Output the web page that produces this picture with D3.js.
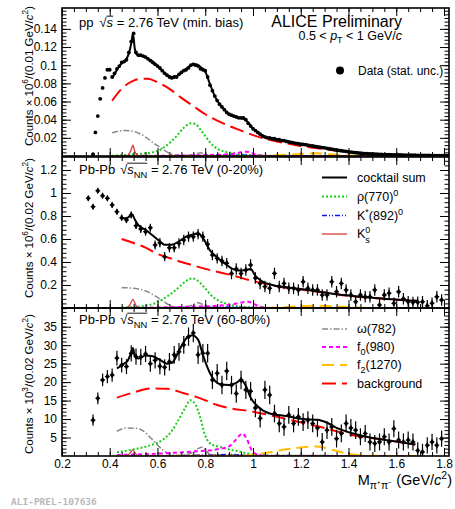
<!DOCTYPE html>
<html><head><meta charset="utf-8">
<script src="https://cdn.jsdelivr.net/npm/d3@7"></script>
<style>
body{margin:0;background:#fff;}
svg{display:block;font-family:"Liberation Sans",Arial,Helvetica,sans-serif;}
</style></head><body>
<svg id="c" width="455" height="509"></svg>
<script>
// ---------- tick labels ----------
const xTicks = [0.2,0.4,0.6,0.8,1,1.2,1.4,1.6,1.8];
const ppYTicks = [0.02,0.04,0.06,0.08,0.1,0.12,0.14];
const cenYTicks = [0.2,0.4,0.6,0.8,1,1.2];
const perYTicks = [5,10,15,20,25,30,35];

// ---------- pp (top) data, 0.01 GeV bins starting at 0.33 ----------
const ppBinStart = 0.33, ppBinWidth = 0.01;
const ppCounts = [
0.002,0.026,0.044,0.063,0.075,0.086,0.095,0.095,
0.087,0.091,0.096,0.099,0.103,0.104,0.106,0.114,0.126,0.135,
0.114,0.111,0.111,0.110,0.109,0.107,0.105,0.103,0.101,0.099,
0.097,0.094,0.091,0.089,0.087,0.086,0.087,0.087,0.090,0.092,
0.094,0.095,0.097,0.100,0.101,0.100,0.099,0.096,0.095,0.094,
0.087,0.078,0.072,0.066,0.061,0.057,0.054,0.051,0.048,0.046,
0.045,0.044,0.043,0.042,0.042,0.042,0.040,0.036,0.033,0.030,
0.028,0.026,0.024,0.022,0.021,0.020,0.020,0.019,0.019,0.018,
0.018,0.017,0.017,0.016,0.0155,0.015,0.0145,0.014,0.0135,0.013,
0.0128,0.0125,0.012,0.0115,0.011,0.0106,0.010,0.0097,0.0093,0.009,
0.0085,0.008,0.0075,0.007,0.0066,0.0062,0.0058,0.0054,0.005,0.0046,
0.0043,0.004,0.0037,0.0034,0.0031,0.0029,0.0027,0.0025,0.0023,0.0022,
0.0021,0.0019,0.0018,0.0017,0.0016,0.0015,0.0014,0.0013,0.0013,0.0012,
0.0011,0.0011,0.0010,0.0010,0.0009,0.0009,0.0008,0.0008,0.0007,0.0007,
0.0007,0.0006,0.0006,0.0006,0.0005,0.0005,0.0005,0.0004,0.0004,0.0004,
0.0003,0.0003];

const ppSumM = [0.41,0.42,0.43,0.44,0.45,0.46,0.47,0.48,0.49,0.497,0.505,0.51,0.52,0.54,0.56,0.58,0.60,0.62,0.64,0.66,0.68,0.70,0.72,0.74,0.76,0.78,0.80,0.82,0.84,0.86,0.88,0.90,0.92,0.94,0.96,0.98,1.00,1.02,1.04,1.06,1.08,1.10,1.15,1.20,1.25,1.30,1.35,1.40,1.45,1.50,1.60,1.70,1.80];
const ppSumV = [0.086,0.090,0.095,0.099,0.102,0.104,0.107,0.113,0.124,0.135,0.118,0.113,0.111,0.110,0.107,0.104,0.099,0.094,0.089,0.087,0.088,0.092,0.096,0.100,0.101,0.098,0.093,0.079,0.066,0.057,0.051,0.046,0.044,0.042,0.041,0.037,0.030,0.026,0.022,0.020,0.019,0.018,0.0155,0.013,0.011,0.009,0.0066,0.0046,0.0031,0.0022,0.0012,0.0007,0.0003];
const ppBgM = [0.41,0.45,0.50,0.53,0.56,0.60,0.65,0.70,0.75,0.80,0.85,0.90,0.95,1.00,1.05,1.10,1.15,1.20,1.30,1.40,1.50,1.60,1.70,1.80];
const ppBgV = [0.061,0.074,0.083,0.085,0.085,0.081,0.074,0.064,0.055,0.046,0.039,0.033,0.028,0.023,0.019,0.016,0.0135,0.011,0.0075,0.0045,0.0025,0.0015,0.0008,0.0003];
const ppOmegaM = [0.41,0.43,0.46,0.50,0.53,0.56,0.59,0.62,0.65,0.68,0.72,0.75,0.77,0.78,0.79,0.81,0.84,1.80];
const ppOmegaV = [0.0256,0.027,0.028,0.027,0.024,0.019,0.013,0.008,0.003,0.001,0.0008,0.0015,0.003,0.0035,0.003,0.001,0.0002,0];
const ppRhoM = [0.41,0.45,0.50,0.55,0.60,0.64,0.68,0.71,0.74,0.76,0.78,0.80,0.82,0.85,0.88,0.92,0.96,1.00,1.05,1.80];
const ppRhoV = [0.0003,0.001,0.002,0.003,0.0055,0.012,0.022,0.031,0.036,0.035,0.029,0.022,0.015,0.008,0.005,0.003,0.0015,0.0008,0.0002,0];
const ppK0sM = [0.41,0.47,0.48,0.49,0.497,0.505,0.515,0.53,1.80];
const ppK0sV = [0,0,0.002,0.007,0.012,0.005,0.001,0,0];
const ppKstarM = [0.41,0.65,0.75,0.85,0.90,0.95,1.05,1.15,1.80];
const ppKstarV = [0,0,0.0005,0.001,0.0012,0.001,0.0004,0,0];
const ppF0M = [0.41,0.6,0.8,0.9,0.94,0.97,0.985,1.0,1.03,1.08,1.80];
const ppF0V = [0,0.0003,0.001,0.002,0.0035,0.0048,0.0042,0.0025,0.0008,0,0];
const ppF2M = [0.41,1.0,1.1,1.2,1.26,1.32,1.4,1.5,1.80];
const ppF2V = [0,0,0.0008,0.0022,0.003,0.002,0.0005,0,0];

// ---------- Pb-Pb 0-20% (middle), 0.02 GeV bins starting at 0.31 ----------
const cenBinStart = 0.31, cenBinWidth = 0.02;
const cenCounts = [
0.954,0.881,1.02,0.976,0.954,0.896,0.837,0.785,0.765,0.809,
0.716,0.687,0.664,0.698,0.548,0.568,0.446,0.524,0.524,0.562,
0.591,0.620,0.620,0.643,0.620,0.554,0.461,0.432,0.409,0.389,
0.300,0.340,0.300,0.330,0.374,0.260,0.214,0.186,0.171,0.301,
0.186,0.214,0.171,0.171,0.157,0.229,0.171,0.157,0.157,0.113,
0.113,0.229,0.142,0.214,0.157,0.113,0.055,0.113,0.098,0.098,
0.157,0.026,0.113,0.128,0.041,0.142,0.080,0.055,0.048,0.050,
0.055,0.020,0.041,0.098,0.070];
const cenErrors = [
0.018,0.018,0.018,0.02,0.02,0.022,0.022,0.025,0.025,0.03,
0.03,0.035,0.035,0.035,0.04,0.04,0.04,0.04,0.04,0.045,
0.045,0.045,0.045,0.045,0.045,0.045,0.045,0.045,0.045,0.045,
0.05,0.05,0.05,0.05,0.05,0.05,0.05,0.05,0.05,0.05,
0.05,0.05,0.05,0.05,0.05,0.05,0.05,0.05,0.05,0.05,
0.05,0.05,0.05,0.05,0.05,0.05,0.05,0.05,0.05,0.05,
0.05,0.05,0.05,0.05,0.05,0.05,0.05,0.05,0.05,0.05,
0.05,0.05,0.05,0.05,0.05];
const cenSumM = [0.45,0.47,0.485,0.495,0.505,0.52,0.55,0.58,0.61,0.63,0.66,0.69,0.72,0.75,0.77,0.79,0.82,0.85,0.88,0.91,0.94,0.97,0.99,1.01,1.04,1.08,1.14,1.20,1.28,1.35,1.42,1.50,1.58,1.69];
const cenSumV = [0.78,0.78,0.80,0.81,0.77,0.72,0.68,0.63,0.58,0.55,0.55,0.58,0.62,0.64,0.65,0.61,0.50,0.44,0.39,0.345,0.325,0.33,0.34,0.28,0.23,0.20,0.18,0.165,0.142,0.12,0.104,0.09,0.076,0.062];
const cenBgM = [0.45,0.5,0.55,0.6,0.65,0.7,0.75,0.8,0.85,0.9,1.0,1.1,1.2,1.3,1.4,1.5,1.6,1.69];
const cenBgV = [0.60,0.565,0.525,0.47,0.435,0.40,0.37,0.34,0.315,0.29,0.235,0.19,0.16,0.135,0.105,0.088,0.072,0.06];
const cenOmegaM = [0.45,0.48,0.52,0.56,0.59,0.62,0.65,0.68,0.72,0.75,0.77,0.79,0.81,0.84,1.69];
const cenOmegaV = [0.177,0.175,0.165,0.14,0.105,0.065,0.025,0.008,0.01,0.03,0.045,0.03,0.01,0.002,0];
const cenRhoM = [0.45,0.5,0.55,0.6,0.64,0.67,0.7,0.72,0.745,0.77,0.8,0.83,0.86,0.9,0.95,1.0,1.05,1.69];
const cenRhoV = [0.005,0.008,0.02,0.05,0.1,0.145,0.2,0.235,0.258,0.235,0.17,0.1,0.06,0.03,0.012,0.005,0.001,0];
const cenK0sM = [0.45,0.47,0.485,0.497,0.51,0.525,1.69];
const cenK0sV = [0,0,0.03,0.075,0.02,0,0];
const cenKstarM = [0.45,0.65,0.75,0.85,0.9,0.95,1.05,1.15,1.69];
const cenKstarV = [0,0,0.004,0.008,0.009,0.007,0.003,0,0];
const cenF0M = [0.45,0.6,0.75,0.85,0.92,0.96,0.98,1.0,1.03,1.08,1.69];
const cenF0V = [0,0.005,0.012,0.02,0.035,0.05,0.055,0.04,0.012,0,0];
const cenF2M = [0.45,1.05,1.15,1.22,1.28,1.34,1.42,1.5,1.69];
const cenF2V = [0,0,0.01,0.018,0.02,0.015,0.005,0,0];

// ---------- Pb-Pb 60-80% (bottom), 0.02 GeV bins starting at 0.33 ----------
const perBinStart = 0.33, perBinWidth = 0.02;
const perCounts = [
9.7,15.6,20.6,21.5,21.9,26.5,24.6,24.2,27.8,26.9,
26.8,27.6,25.0,25.9,24.3,24.0,25.5,27.4,28.2,30.1,
32.3,33.3,27.4,27.8,27.8,20.6,22.4,19.2,23.0,19.2,
16.9,20.6,17.9,17.5,13.0,10.2,17.9,16.5,11.5,8.8,
7.9,11.1,8.8,10.6,9.2,9.7,8.8,7.6,3.8,7.0,
7.9,4.7,6.1,8.8,7.6,7.0,5.2,6.1,3.8,3.4,
3.8,5.2,3.8,7.4,4.3,3.8,4.3,3.8,1.5,1.1,
2.9,3.8,2.9,4.7];
const perErrors = [
1.5,1.6,1.7,1.8,1.8,2.0,2.0,2.0,2.2,2.2,
2.2,2.2,2.2,2.2,2.2,2.2,2.4,2.4,2.4,2.4,
2.5,2.5,2.5,2.5,2.5,2.5,2.5,2.5,2.5,2.5,
2.5,2.5,2.5,2.5,2.5,2.5,2.5,2.5,2.4,2.4,
2.4,2.4,2.4,2.4,2.4,2.4,2.4,2.4,2.4,2.4,
2.4,2.4,2.4,2.4,2.4,2.4,2.3,2.3,2.3,2.3,
2.3,2.3,2.3,2.3,2.3,2.3,2.3,2.3,2.2,2.2,
2.2,2.2,2.2,2.2];
const perSumM = [0.43,0.46,0.475,0.49,0.497,0.505,0.52,0.55,0.58,0.61,0.64,0.66,0.69,0.72,0.745,0.77,0.79,0.82,0.86,0.90,0.93,0.95,0.97,0.99,1.02,1.07,1.14,1.21,1.27,1.31,1.35,1.42,1.49,1.56,1.68];
const perSumV = [23.7,25.0,25.8,28.0,29.2,27.0,26.4,27.2,27.0,26.0,25.0,25.2,28.5,31.8,32.7,31.5,27.4,22.4,19.5,19.2,19.8,20.6,19.0,15.8,13.4,11.5,10.8,10.0,9.8,9.0,7.6,6.1,5.0,4.3,3.1];
const perBgM = [0.43,0.5,0.57,0.64,0.71,0.78,0.85,0.9,1.0,1.14,1.28,1.42,1.56,1.68];
const perBgV = [15.8,17.2,18.3,18.2,17.0,15.6,13.8,13.0,12.0,10.0,7.9,5.6,4.3,3.1];
const perOmegaM = [0.43,0.47,0.51,0.54,0.57,0.60,0.63,0.66,0.70,0.74,0.77,0.785,0.80,0.82,1.68];
const perOmegaV = [6.7,7.6,7.5,6.8,5.0,3.0,1.2,0.3,0.2,0.8,2.0,2.4,1.8,0.4,0];
const perRhoM = [0.43,0.5,0.57,0.62,0.66,0.69,0.715,0.737,0.76,0.78,0.80,0.83,0.86,0.9,0.95,1.0,1.05,1.68];
const perRhoV = [1.0,1.8,2.9,4.3,6.8,10.0,12.9,15.1,13.8,10.2,5.5,3.0,2.5,1.8,1.1,0.4,0.1,0];
const perK0sM = [0.43,0.47,0.485,0.497,0.51,0.525,1.68];
const perK0sV = [0,0,0.8,1.6,0.5,0,0];
const perKstarM = [0.43,0.65,0.75,0.85,0.9,0.95,1.05,1.15,1.68];
const perKstarV = [0,0,0.2,0.35,0.4,0.3,0.12,0,0];
const perF0M = [0.43,0.55,0.65,0.75,0.85,0.9,0.93,0.955,0.975,0.995,1.02,1.06,1.68];
const perF0V = [0.3,0.5,0.8,1.2,1.8,2.6,4.5,6.1,4.5,1.5,0.4,0,0];
const perF2M = [0.43,0.95,1.05,1.14,1.21,1.27,1.33,1.40,1.48,1.6,1.68];
const perF2V = [0,0.1,0.8,1.8,2.4,2.6,1.7,0.6,0.1,0,0];

// ---------- styles ----------
const STY = {
  sum:   {stroke:"#000000", w:2,   dash:null},
  rho:   {stroke:"#1ccc1c", w:2,   dash:"2,2"},
  kstar: {stroke:"#1010ee", w:1.5, dash:"5,2,1,2,1,2"},
  k0s:   {stroke:"#d84848", w:1.4, dash:null},
  omega: {stroke:"#8a8a8a", w:1.5, dash:"6,2,1.5,2"},
  f0:    {stroke:"#ff00ff", w:2,   dash:"4,3"},
  f2:    {stroke:"#ffbf00", w:2,   dash:"12,6"},
  bg:    {stroke:"#ff0000", w:2,   dash:"14,6"}
};

const svg = d3.select("#c");
const FRAME_L = 62, FRAME_R = 449;
const x = d3.scaleLinear().domain([0.2, 1.821]).range([FRAME_L, FRAME_R]);
const FONT = 11.5;

function rich(sel, parts, size) {
  let shift = 0, idx = 0; const over = [];
  parts.forEach(p => {
    const ts = sel.append("tspan").text(p.t);
    const target = p.sup ? -size*0.42 : (p.sub ? size*0.3 : 0);
    if (target - shift !== 0) ts.attr("dy", target - shift);
    if (p.dx) ts.attr("dx", p.dx);
    shift = target;
    if (p.sup || p.sub) ts.attr("font-size", size*0.72);
    if (p.it) ts.attr("font-style", "italic");
    if (p.over) over.push([idx, idx + p.t.length - 1]);
    idx += p.t.length;
  });
  return over;
}
function richWithOverline(parent, xx, yy, parts, size) {
  const t = parent.append("text").attr("x", xx).attr("y", yy).attr("font-size", size).attr("fill","#000");
  const over = rich(t, parts, size);
  if (over.length) {
    const node = t.node();
    const first = over[0][0], last = over[over.length-1][1];
    const a = node.getExtentOfChar(first), b = node.getExtentOfChar(last);
    const r = node.getExtentOfChar(first-1);
    parent.append("line").attr("x1", a.x).attr("x2", b.x + b.width)
      .attr("y1", r.y + 1.2).attr("y2", r.y + 1.2).attr("stroke","#000").attr("stroke-width",0.9);
  }
  return t;
}

const panels = [
  { top: 8, bottom: 156, ymax: 0.163, ticks: ppYTicks, minor: 0.004, fmt: d3.format(".2~f"),
    binStart: ppBinStart, binWidth: ppBinWidth, counts: ppCounts, errors: null,
    comps: [["omega",ppOmegaM,ppOmegaV],["rho",ppRhoM,ppRhoV],["kstar",ppKstarM,ppKstarV],["k0s",ppK0sM,ppK0sV],
            ["f0",ppF0M,ppF0V],["f2",ppF2M,ppF2V],["bg",ppBgM,ppBgV],["sum",ppSumM,ppSumV]],
    ytitle: [{t:"Counts × 10"},{t:"6",sup:1},{t:"/(0.01 GeV/"},{t:"c",it:1},{t:"2",sup:1},{t:")"}], ytitleY: 76,
    label: [{t:"pp"},{t:"√",dx:6},{t:"s",it:1,over:1},{t:" = 2.76 TeV (min. bias)"}], labelY: 27 },
  { top: 157, bottom: 308, ymax: 1.313, ticks: cenYTicks, minor: 0.04, fmt: d3.format(".1~f"),
    binStart: cenBinStart, binWidth: cenBinWidth, counts: cenCounts, errors: cenErrors,
    comps: [["omega",cenOmegaM,cenOmegaV],["rho",cenRhoM,cenRhoV],["kstar",cenKstarM,cenKstarV],["k0s",cenK0sM,cenK0sV],
            ["f0",cenF0M,cenF0V],["f2",cenF2M,cenF2V],["bg",cenBgM,cenBgV],["sum",cenSumM,cenSumV]],
    ytitle: [{t:"Counts × 10"},{t:"6",sup:1},{t:"/(0.02 GeV/"},{t:"c",it:1},{t:"2",sup:1},{t:")"}], ytitleY: 228,
    label: [{t:"Pb-Pb"},{t:"√",dx:5},{t:"s",it:1,over:1},{t:"NN",sub:1,over:1},{t:" = 2.76 TeV (0-20%)"}], labelY: 174 },
  { top: 308, bottom: 456, ymax: 40.06, ticks: perYTicks, minor: 1, fmt: d3.format("d"),
    binStart: perBinStart, binWidth: perBinWidth, counts: perCounts, errors: perErrors,
    comps: [["omega",perOmegaM,perOmegaV],["rho",perRhoM,perRhoV],["kstar",perKstarM,perKstarV],["k0s",perK0sM,perK0sV],
            ["f0",perF0M,perF0V],["f2",perF2M,perF2V],["bg",perBgM,perBgV],["sum",perSumM,perSumV]],
    ytitle: [{t:"Counts × 10"},{t:"3",sup:1},{t:"/(0.02 GeV/"},{t:"c",it:1},{t:"2",sup:1},{t:")"}], ytitleY: 384,
    label: [{t:"Pb-Pb"},{t:"√",dx:5},{t:"s",it:1,over:1},{t:"NN",sub:1,over:1},{t:" = 2.76 TeV (60-80%)"}], labelY: 324 }
];

panels.forEach((p, pi) => {
  const y = d3.scaleLinear().domain([0, p.ymax]).range([p.bottom, p.top]);
  const g = svg.append("g");
  const cid = "clip" + pi;
  svg.append("defs").append("clipPath").attr("id", cid).append("rect")
    .attr("x", FRAME_L).attr("y", p.top).attr("width", FRAME_R - FRAME_L).attr("height", p.bottom - p.top);
  const plot = g.append("g").attr("clip-path", `url(#${cid})`);
  const line = d3.line().x(d => x(d[0])).y(d => y(d[1])).curve(d3.curveMonotoneX);

  p.comps.forEach(([key, ms, vs]) => {
    const s = STY[key];
    plot.append("path").datum(ms.map((m, i) => [m, vs[i]]))
      .attr("d", line).attr("fill", "none").attr("stroke", s.stroke)
      .attr("stroke-width", s.w).attr("stroke-dasharray", s.dash)
      .attr("stroke-linejoin", "round");
  });

  const pts = p.counts.map((v, i) => ({m: p.binStart + i * p.binWidth, v, e: p.errors ? p.errors[i] : 0}));
  if (p.errors) {
    const eg = plot.append("g").attr("stroke", "#000").attr("stroke-width", 1.2);
    eg.selectAll("line.v").data(pts).join("line").attr("class","v")
      .attr("x1", d => x(d.m)).attr("x2", d => x(d.m))
      .attr("y1", d => y(d.v - d.e)).attr("y2", d => y(d.v + d.e));
    eg.selectAll("line.h").data(pts).join("line").attr("class","h")
      .attr("x1", d => x(d.m - p.binWidth/2)).attr("x2", d => x(d.m + p.binWidth/2))
      .attr("y1", d => y(d.v)).attr("y2", d => y(d.v));
    plot.append("g").selectAll("path").data(pts).join("path")
      .attr("d", d3.symbol(d3.symbolDiamond, 14))
      .attr("transform", d => `translate(${x(d.m)},${y(d.v)})`).attr("fill", "#000");
  } else {
    plot.append("g").selectAll("circle").data(pts).join("circle")
      .attr("cx", d => x(d.m)).attr("cy", d => y(d.v)).attr("r", 1.9).attr("fill", "#000");
  }

  // axes
  g.append("g").attr("transform", `translate(${FRAME_L},0)`)
    .call(d3.axisLeft(y).tickValues(p.ticks).tickSize(-9).tickPadding(5).tickFormat(p.fmt));
  const minorY = d3.range(p.minor, p.ymax, p.minor);
  g.append("g").attr("transform", `translate(${FRAME_L},0)`)
    .call(d3.axisLeft(y).tickValues(minorY).tickSize(-4.5).tickFormat(""));
  g.append("g").attr("transform", `translate(${FRAME_R},0)`)
    .call(d3.axisRight(y).tickValues(p.ticks).tickSize(-9).tickFormat(""));
  g.append("g").attr("transform", `translate(${FRAME_R},0)`)
    .call(d3.axisRight(y).tickValues(minorY).tickSize(-4.5).tickFormat(""));
  const minorX = d3.range(0.25, 1.821, 0.05);
  g.append("g").attr("transform", `translate(0,${p.bottom})`)
    .call(d3.axisBottom(x).tickValues(xTicks).tickSize(-8).tickPadding(3)
      .tickFormat(pi === 2 ? d3.format("~g") : ""));
  g.append("g").attr("transform", `translate(0,${p.bottom})`)
    .call(d3.axisBottom(x).tickValues(minorX).tickSize(-4).tickFormat(""));
  g.append("g").attr("transform", `translate(0,${p.top})`)
    .call(d3.axisTop(x).tickValues(xTicks).tickSize(-8).tickFormat(""));
  g.append("g").attr("transform", `translate(0,${p.top})`)
    .call(d3.axisTop(x).tickValues(minorX).tickSize(-4).tickFormat(""));
  g.selectAll(".domain").remove();
  g.selectAll(".tick line").attr("stroke", "#000").attr("stroke-width", 1);
  g.selectAll(".tick text").attr("font-size", 12).attr("fill", "#000")
    .attr("font-family", '"Liberation Sans",Arial,sans-serif');

  g.append("rect").attr("x", FRAME_L).attr("y", p.top).attr("width", FRAME_R - FRAME_L)
    .attr("height", p.bottom - p.top).attr("fill", "none").attr("stroke", "#000").attr("stroke-width", 1.6);

  // y title
  const yt = g.append("text").attr("transform", `translate(33,${p.ytitleY}) rotate(-90)`)
    .attr("text-anchor", "middle").attr("font-size", FONT).attr("fill", "#000");
  rich(yt, p.ytitle, FONT);

  // panel label
  richWithOverline(g, 79, p.labelY, p.label, 13);
});

// ---------- top legend & titles ----------
svg.append("text").attr("x", 402).attr("y", 27).attr("text-anchor", "end")
  .attr("font-size", 16).text("ALICE Preliminary");
const pt = svg.append("text").attr("x", 402).attr("y", 39.5).attr("text-anchor", "end").attr("font-size", 12.5);
rich(pt, [{t:"0.5 < "},{t:"p",it:1},{t:"T",sub:1},{t:" < 1 GeV/"},{t:"c",it:1}], 12.5);
svg.append("circle").attr("cx", 340).attr("cy", 70.5).attr("r", 4).attr("fill", "#000");
svg.append("text").attr("x", 358).attr("y", 74.5).attr("font-size", 12).text("Data (stat. unc.)");

// ---------- component legends ----------
const legendItems = [
  {key:"sum",   y:177.5, parts:[{t:"cocktail sum"}]},
  {key:"rho",   y:196.5, parts:[{t:"ρ(770)"},{t:"0",sup:1}]},
  {key:"kstar", y:215.5, parts:[{t:"K"},{t:"*",sup:1},{t:"(892)"},{t:"0",sup:1}]},
  {key:"k0s",   y:234,   parts:null},
  {key:"omega", y:329,   parts:[{t:"ω(782)"}]},
  {key:"f0",    y:347,   parts:[{t:"f"},{t:"0",sub:1},{t:"(980)"}]},
  {key:"f2",    y:365,   parts:[{t:"f"},{t:"2",sub:1},{t:"(1270)"}]},
  {key:"bg",    y:383.5, parts:[{t:"background"}]}
];
legendItems.forEach(it => {
  const s = STY[it.key];
  svg.append("line").attr("x1", 322).attr("x2", 347).attr("y1", it.y).attr("y2", it.y)
    .attr("stroke", s.stroke).attr("stroke-width", s.w).attr("stroke-dasharray", s.dash);
  const t = svg.append("text").attr("x", 357).attr("y", it.y + 4.3).attr("font-size", 12.5).attr("fill","#000");
  if (it.key === "k0s") {
    t.append("tspan").text("K");
    t.append("tspan").text("0").attr("font-size", 9).attr("dy", -5.5);
    t.append("tspan").text("s").attr("font-size", 9).attr("dx", -5).attr("dy", 10);
  } else {
    rich(t, it.parts, 12.5);
  }
});

// ---------- x title ----------
const xt = svg.append("text").attr("x", 452).attr("y", 485).attr("text-anchor", "end").attr("font-size", 14.5);
rich(xt, [{t:"M"},{t:"π⁺π⁻",sub:1},{t:" (GeV/"},{t:"c",it:1},{t:"2",sup:1},{t:")"}], 14.5);

// footer
svg.append("text").attr("x", 11).attr("y", 505).attr("font-size", 9.5)
  .attr("font-family", '"DejaVu Sans Mono",monospace').attr("font-weight", "bold")
  .attr("fill", "#b8b8b8").text("ALI-PREL-107636");
</script>
</body></html>
